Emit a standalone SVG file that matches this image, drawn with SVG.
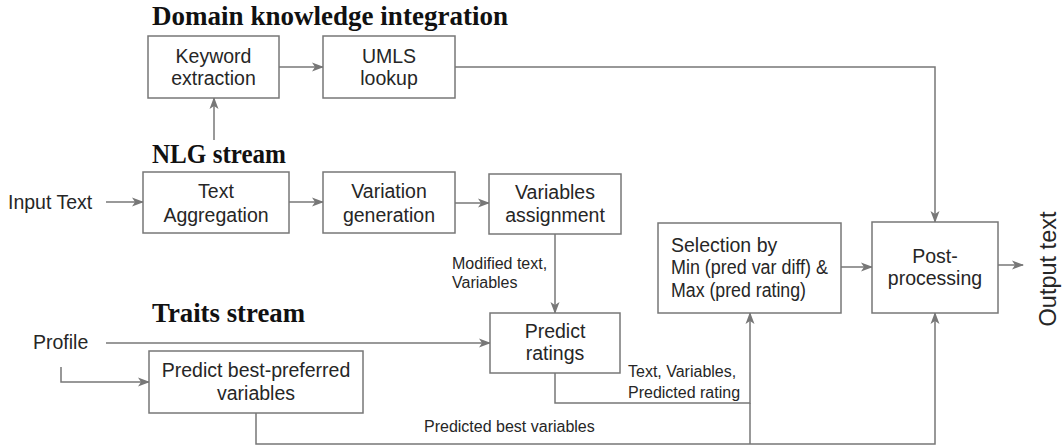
<svg xmlns="http://www.w3.org/2000/svg" width="1062" height="448" viewBox="0 0 1062 448">
  <style>
    .box { fill: #ffffff; stroke: #777777; stroke-width: 1.5; }
    .lbl { font-family: "Liberation Sans", Arial, sans-serif; font-size: 19.5px; fill: #262626; }
    .mid { text-anchor: middle; }
    .sm { font-family: "Liberation Sans", Arial, sans-serif; font-size: 16px; fill: #262626; }
    .ttl { font-family: "Liberation Serif", "Times New Roman", serif; font-weight: bold; font-size: 27px; fill: #111111; }
    .wire { fill: none; stroke: #777777; stroke-width: 1.5; }
    .arr { marker-end: url(#head); }
  </style>
  <defs>
    <marker id="head" viewBox="0 0 12 10" refX="11" refY="5" markerWidth="12" markerHeight="10" markerUnits="userSpaceOnUse" orient="auto">
      <path d="M0,0.5 L12,5 L0,9.5 L3,5 z" fill="#777777"/>
    </marker>
  </defs>
  <rect width="1062" height="448" fill="#ffffff"/>

  <!-- section headings -->
  <text class="ttl" x="152" y="25" textLength="356" lengthAdjust="spacingAndGlyphs">Domain knowledge integration</text>
  <text class="ttl" x="152" y="163" textLength="134" lengthAdjust="spacingAndGlyphs">NLG stream</text>
  <text class="ttl" x="152" y="322" textLength="153" lengthAdjust="spacingAndGlyphs">Traits stream</text>

  <!-- connectors -->
  <g id="connectors">
    <path class="wire arr" d="M279,67 H323"/>
    <path class="wire arr" d="M214,140 V98"/>
    <path class="wire arr" d="M455,67 H935 V222"/>
    <path class="wire arr" d="M106,202 H143"/>
    <path class="wire arr" d="M289,202 H323"/>
    <path class="wire arr" d="M455,203 H489"/>
    <path class="wire arr" d="M555,234 V313"/>
    <path class="wire arr" d="M106,343 H490"/>
    <path class="wire arr" d="M61,367 V382 H149"/>
    <path class="wire arr" d="M555,373 V403 H750 V313"/>
    <path class="wire" d="M750,444 V403"/>
    <path class="wire arr" d="M256,413 V444 H935 V313"/>
    <path class="wire arr" d="M841,267 H872"/>
    <path class="wire arr" d="M998,265 H1023"/>
  </g>

  <!-- free labels -->
  <text class="lbl" x="8" y="209">Input Text</text>
  <text class="lbl" x="33" y="349">Profile</text>
  <text class="sm" x="452" y="269">Modified text,</text>
  <text class="sm" x="452" y="288">Variables</text>
  <text class="sm" x="628" y="377">Text, Variables,</text>
  <text class="sm" x="628" y="398">Predicted rating</text>
  <text class="sm" x="424" y="432">Predicted best variables</text>
  <text class="lbl mid" transform="translate(1056,269) rotate(-90)" style="font-size:23.5px">Output text</text>

  <!-- nodes -->
  <g id="keyword-extraction">
    <rect class="box" x="148" y="36" width="131" height="62"/>
    <text class="lbl mid" x="213.5" y="63">Keyword</text>
    <text class="lbl mid" x="213.5" y="85">extraction</text>
  </g>
  <g id="umls-lookup">
    <rect class="box" x="323" y="36" width="132" height="62"/>
    <text class="lbl mid" x="389" y="63">UMLS</text>
    <text class="lbl mid" x="389" y="85">lookup</text>
  </g>
  <g id="text-aggregation">
    <rect class="box" x="143" y="172" width="146" height="61"/>
    <text class="lbl mid" x="216" y="198">Text</text>
    <text class="lbl mid" x="216" y="222">Aggregation</text>
  </g>
  <g id="variation-generation">
    <rect class="box" x="323" y="172" width="132" height="61"/>
    <text class="lbl mid" x="389" y="198">Variation</text>
    <text class="lbl mid" x="389" y="222">generation</text>
  </g>
  <g id="variables-assignment">
    <rect class="box" x="489" y="174" width="132" height="60"/>
    <text class="lbl mid" x="555" y="199">Variables</text>
    <text class="lbl mid" x="555" y="222">assignment</text>
  </g>
  <g id="selection">
    <rect class="box" x="658" y="223" width="183" height="90"/>
    <text class="lbl" x="671" y="252">Selection by</text>
    <text class="lbl" x="671" y="274" textLength="157" lengthAdjust="spacingAndGlyphs">Min (pred var diff) &amp;</text>
    <text class="lbl" x="671" y="297" textLength="135" lengthAdjust="spacingAndGlyphs">Max (pred rating)</text>
  </g>
  <g id="post-processing">
    <rect class="box" x="872" y="222" width="126" height="91"/>
    <text class="lbl mid" x="935" y="263">Post-</text>
    <text class="lbl mid" x="935" y="285">processing</text>
  </g>
  <g id="predict-ratings">
    <rect class="box" x="490" y="313" width="130" height="60"/>
    <text class="lbl mid" x="555" y="338">Predict</text>
    <text class="lbl mid" x="555" y="360">ratings</text>
  </g>
  <g id="predict-best-variables">
    <rect class="box" x="149" y="351" width="214" height="62"/>
    <text class="lbl mid" x="256" y="377">Predict best-preferred</text>
    <text class="lbl mid" x="256" y="400">variables</text>
  </g>
</svg>
